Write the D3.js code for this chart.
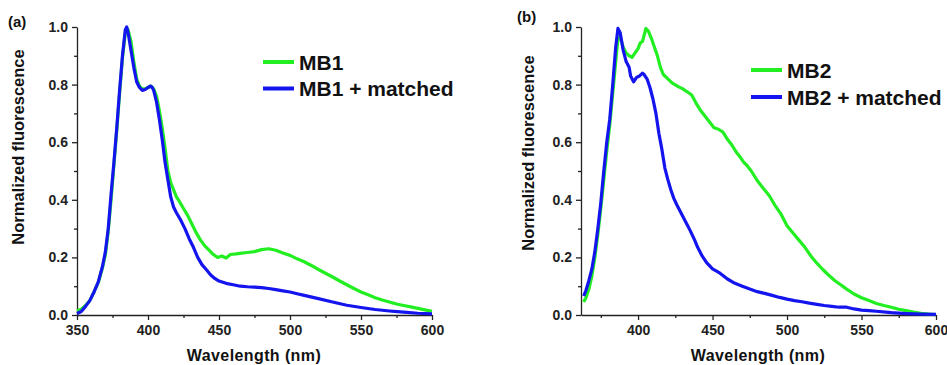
<!DOCTYPE html>
<html>
<head>
<meta charset="utf-8">
<script src="https://cdn.jsdelivr.net/npm/d3@7"></script>
<style>
  body { margin: 0; background: #fff; }
  svg { display: block; font-family: "Liberation Sans", Arial, sans-serif; }
  .tick text { font-weight: bold; font-size: 14px; fill: #222; font-family: "Liberation Sans", Arial, sans-serif; }
  .domain, .tick line { stroke: #222; stroke-width: 1.3; }
</style>
</head>
<body>
<script>
// panel (a)
const wlA1 = [350,353,356,359,362,365,368,370,372,374,376,378,380,382,384,385,386,388,390,392,394,396,398,400,402,404,406,408,410,412,414,416,418,420,422,425,428,431,434,437,440,443,446,449,452,455,458,462,466,470,475,480,485,490,495,500,505,510,515,520,525,530,535,540,545,550,555,560,565,570,575,580,585,590,595,600];
const mb1 = [0.015,0.02,0.033,0.05,0.08,0.113,0.165,0.21,0.29,0.4,0.52,0.64,0.77,0.89,0.98,0.995,0.99,0.95,0.88,0.82,0.795,0.785,0.785,0.79,0.795,0.785,0.76,0.71,0.65,0.58,0.5,0.46,0.435,0.41,0.395,0.37,0.345,0.315,0.285,0.26,0.24,0.225,0.21,0.2,0.205,0.198,0.21,0.212,0.215,0.217,0.22,0.227,0.23,0.225,0.215,0.207,0.195,0.185,0.172,0.158,0.145,0.132,0.118,0.105,0.092,0.08,0.07,0.06,0.052,0.045,0.038,0.033,0.028,0.023,0.018,0.013];
const wlA2 = [350,353,356,359,362,365,368,370,372,374,376,378,380,382,384,385,386,388,390,392,394,396,398,400,402,403,404,406,408,410,412,414,416,418,420,423,426,429,432,435,438,441,444,447,450,455,460,465,470,475,480,485,490,495,500,505,510,520,530,540,550,560,570,580,590,600];
const mb1Matched = [0.005,0.012,0.03,0.05,0.08,0.115,0.17,0.22,0.3,0.42,0.53,0.65,0.78,0.9,0.99,1.0,0.98,0.92,0.86,0.81,0.79,0.78,0.783,0.79,0.795,0.79,0.78,0.74,0.68,0.61,0.53,0.47,0.41,0.375,0.355,0.33,0.3,0.265,0.235,0.2,0.175,0.158,0.14,0.127,0.118,0.11,0.105,0.1,0.098,0.097,0.095,0.092,0.088,0.084,0.08,0.074,0.068,0.057,0.045,0.034,0.026,0.019,0.014,0.01,0.006,0.004];

// panel (b)
const wlB1 = [363.5,365,367,369,371,373,375,377,379,381,383,385,386.5,388,390,392,394,396,398,400,401.5,403,404,405.3,407,409,411,413,415,417,420,423,427,430,433,436,439,442,445,448,451,454,457,460,463,466,469,471,473,476,480,484,488,492,496,500,504,508,512,516,520,524,528,532,536,540,545,550,555,560,565,570,575,580,585,590,595,600];
const mb2 = [0.045,0.06,0.09,0.135,0.2,0.28,0.37,0.47,0.57,0.66,0.77,0.88,0.96,0.965,0.93,0.91,0.9,0.895,0.91,0.925,0.945,0.95,0.97,0.995,0.985,0.96,0.93,0.9,0.86,0.835,0.82,0.805,0.793,0.785,0.775,0.764,0.735,0.71,0.69,0.67,0.65,0.645,0.635,0.61,0.59,0.565,0.545,0.53,0.52,0.5,0.467,0.44,0.415,0.38,0.35,0.31,0.285,0.26,0.235,0.205,0.18,0.158,0.138,0.12,0.105,0.09,0.073,0.06,0.05,0.04,0.033,0.027,0.02,0.015,0.01,0.006,0.003,0.001];
const wlB2 = [363.5,365,367,369,371,373,375,377,379,381,383,385,386.5,388,390,392,394,395,397,399,401,403,404,406,408,410,412,414,416,418,420,422,424,426,428,430,432,435,438,440,443,446,450,455,460,465,470,475,480,485,490,495,500,505,510,515,520,525,530,535,540,545,550,555,560,570,580,590,600];
const mb2Matched = [0.066,0.085,0.12,0.16,0.22,0.3,0.39,0.5,0.6,0.68,0.8,0.93,0.995,0.98,0.92,0.88,0.86,0.83,0.81,0.825,0.83,0.84,0.835,0.82,0.79,0.75,0.7,0.63,0.575,0.51,0.47,0.435,0.405,0.383,0.363,0.343,0.323,0.293,0.26,0.235,0.205,0.182,0.16,0.145,0.125,0.11,0.1,0.09,0.081,0.075,0.068,0.061,0.055,0.05,0.046,0.041,0.037,0.033,0.03,0.027,0.027,0.021,0.017,0.015,0.013,0.008,0.005,0.003,0.002];

const majorA = [350,400,450,500,550,600];
const majorB = [400,450,500,550,600];
const minorXTicks = [375,425,475,525,575];
const yTicks = [0,0.2,0.4,0.6,0.8,1.0];
const yMinorTicks = [0.1,0.3,0.5,0.7,0.9];

const green = "#22ee22", blue = "#1414ee";

const svg = d3.select("body").append("svg")
  .attr("width", 947).attr("height", 365);

function drawPanel(p) {
  const x = d3.scaleLinear().domain(p.xDomain).range([p.left, p.right]);
  const y = d3.scaleLinear().domain([0, 1]).range([315, 27]);
  const g = svg.append("g");

  // minor ticks
  g.append("g").attr("transform", "translate(0,315)")
    .call(d3.axisBottom(x).tickValues(minorXTicks).tickSize(3).tickFormat(""))
    .select(".domain").remove();
  g.append("g").attr("transform", `translate(${p.left},0)`)
    .call(d3.axisLeft(y).tickValues(yMinorTicks).tickSize(3).tickFormat(""))
    .select(".domain").remove();

  g.append("g").attr("transform", "translate(0,315)")
    .call(d3.axisBottom(x).tickValues(p.major).tickSize(5).tickSizeOuter(0).tickPadding(5).tickFormat(d3.format("d")));
  g.append("g").attr("transform", `translate(${p.left},0)`)
    .call(d3.axisLeft(y).tickValues(yTicks).tickSize(5).tickSizeOuter(0).tickPadding(4).tickFormat(d3.format(".1f")));

  const line = d3.line().x(d => x(d[0])).y(d => y(d[1]));
  p.series.forEach(s => {
    g.append("path")
      .datum(d3.zip(s.wl, s.v))
      .attr("fill", "none")
      .attr("stroke", s.color)
      .attr("stroke-width", 3.2)
      .attr("stroke-linejoin", "round")
      .attr("d", line);
  });

  // legend
  const leg = g.append("g");
  p.series.forEach((s, i) => {
    const ly = p.legY + i * p.legGap;
    leg.append("line").attr("x1", p.legX).attr("x2", p.legX + 31)
      .attr("y1", ly).attr("y2", ly)
      .attr("stroke", s.color).attr("stroke-width", 4);
    leg.append("text").attr("x", p.legX + 36).attr("y", ly).attr("dy", "0.36em")
      .attr("font-size", 21).attr("font-weight", "bold").attr("fill", "#111")
      .text(s.name);
  });

  g.append("text").attr("x", p.tagX).attr("y", p.tagY)
    .attr("font-size", 15).attr("font-weight", "bold").attr("fill", "#111")
    .text(p.tag);

  g.append("text")
    .attr("transform", `translate(${p.yTitleX},${p.yTitleY}) rotate(-90)`)
    .attr("text-anchor", "middle").attr("dy", "0.35em")
    .attr("font-size", 16.5).attr("font-weight", "bold").attr("fill", "#111")
    .text("Normalized fluorescence");

  g.append("text").attr("x", p.xTitleX).attr("y", 361)
    .attr("text-anchor", "middle")
    .attr("font-size", 16).attr("font-weight", "bold").attr("fill", "#111")
    .attr("letter-spacing", 0.4)
    .text("Wavelength (nm)");
}

drawPanel({
  xDomain: [350, 600], left: 77, right: 432, major: majorA,
  series: [
    { name: "MB1", wl: wlA1, v: mb1, color: green },
    { name: "MB1 + matched", wl: wlA2, v: mb1Matched, color: blue }
  ],
  legX: 263, legY: 62, legGap: 26.5,
  tag: "(a)", tagX: 8, tagY: 27,
  yTitleX: 18, yTitleY: 147, xTitleX: 254
});

drawPanel({
  xDomain: [361.7, 600], left: 581, right: 936, major: majorB,
  series: [
    { name: "MB2", wl: wlB1, v: mb2, color: green },
    { name: "MB2 + matched", wl: wlB2, v: mb2Matched, color: blue }
  ],
  legX: 751, legY: 70, legGap: 27,
  tag: "(b)", tagX: 517, tagY: 22,
  yTitleX: 528, yTitleY: 153, xTitleX: 758
});
</script>
</body>
</html>
